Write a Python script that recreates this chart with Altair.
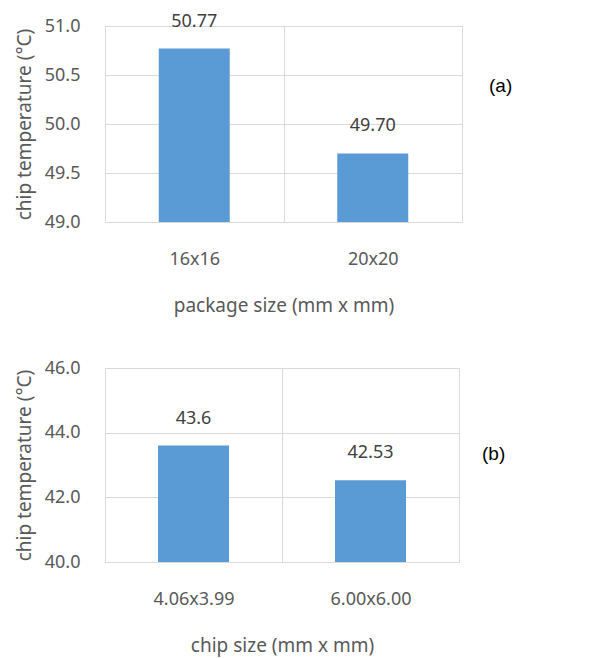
import altair as alt
import pandas as pd

# Panel (a)
pkg_sizes = ["16x16", "20x20"]
pkg_temps = [50.77, 49.70]
pkg_labels = ["50.77", "49.70"]

# Panel (b)
chip_sizes = ["4.06x3.99", "6.00x6.00"]
chip_temps = [43.6, 42.53]
chip_labels = ["43.6", "42.53"]

FONT = "Noto Sans"
BAR = "#5B9BD5"
GRID = "#D9D9D9"
TXT = "#595959"


def panel(cats, vals, labs, ymin, ymax, step, xtitle, tag, w, h, tagx, tagy):
    df = pd.DataFrame({"cat": cats, "val": vals, "lab": labs})
    ticks = []
    v = ymin
    while v <= ymax + 1e-9:
        ticks.append(round(v, 3))
        v += step
    x = alt.X("cat:N", sort=cats, title=xtitle,
              scale=alt.Scale(paddingInner=0, paddingOuter=0),
              axis=alt.Axis(labelAngle=0, tickBand="extent", grid=True, ticks=False,
                            domain=False, gridColor=GRID, labelPadding=28,
                            titlePadding=28, labelFontSize=18, titleFontSize=19,
                            labelColor=TXT, titleColor=TXT, labelFont=FONT,
                            titleFont=FONT, titleFontWeight="normal"))
    y = alt.Y("val:Q", title="chip temperature (°C)",
              scale=alt.Scale(domain=[ymin, ymax], zero=False, nice=False),
              axis=alt.Axis(values=ticks, format=".1f", grid=True, ticks=False,
                            domain=False, gridColor=GRID, labelPadding=25,
                            titlePadding=10, labelFontSize=18, titleFontSize=19,
                            labelColor=TXT, titleColor=TXT, labelFont=FONT,
                            titleFont=FONT, titleFontWeight="normal"))
    base = alt.Chart(df)
    bars = base.mark_bar(size=71, color=BAR).encode(x=x, y=y, y2=alt.datum(ymin))
    text = base.mark_text(dy=-18, fontSize=18, font=FONT, color="#404040",
                          baseline="bottom").encode(x=x, y=y, text="lab:N")
    tagc = alt.Chart(pd.DataFrame({"t": [tag]})).mark_text(
        font="Liberation Sans", fontSize=19, color="#000000", align="left",
        baseline="middle"
    ).encode(x=alt.value(tagx), y=alt.value(tagy), text="t:N")
    return alt.layer(bars, text, tagc).properties(width=w, height=h)


a = panel(pkg_sizes, pkg_temps, pkg_labels, 49.0, 51.0, 0.5,
          "package size (mm x mm)", "(a)", 357, 196, 384, 60)
b = panel(chip_sizes, chip_temps, chip_labels, 40.0, 46.0, 2.0,
          "chip size (mm x mm)", "(b)", 354, 194, 377, 86)

chart = alt.vconcat(a, b, spacing=42).configure_view(stroke=GRID).configure(
    padding={"left": 6, "top": 4, "right": 5, "bottom": 5})

chart.save("out.html", embed_options={"renderer": "svg", "actions": False})
